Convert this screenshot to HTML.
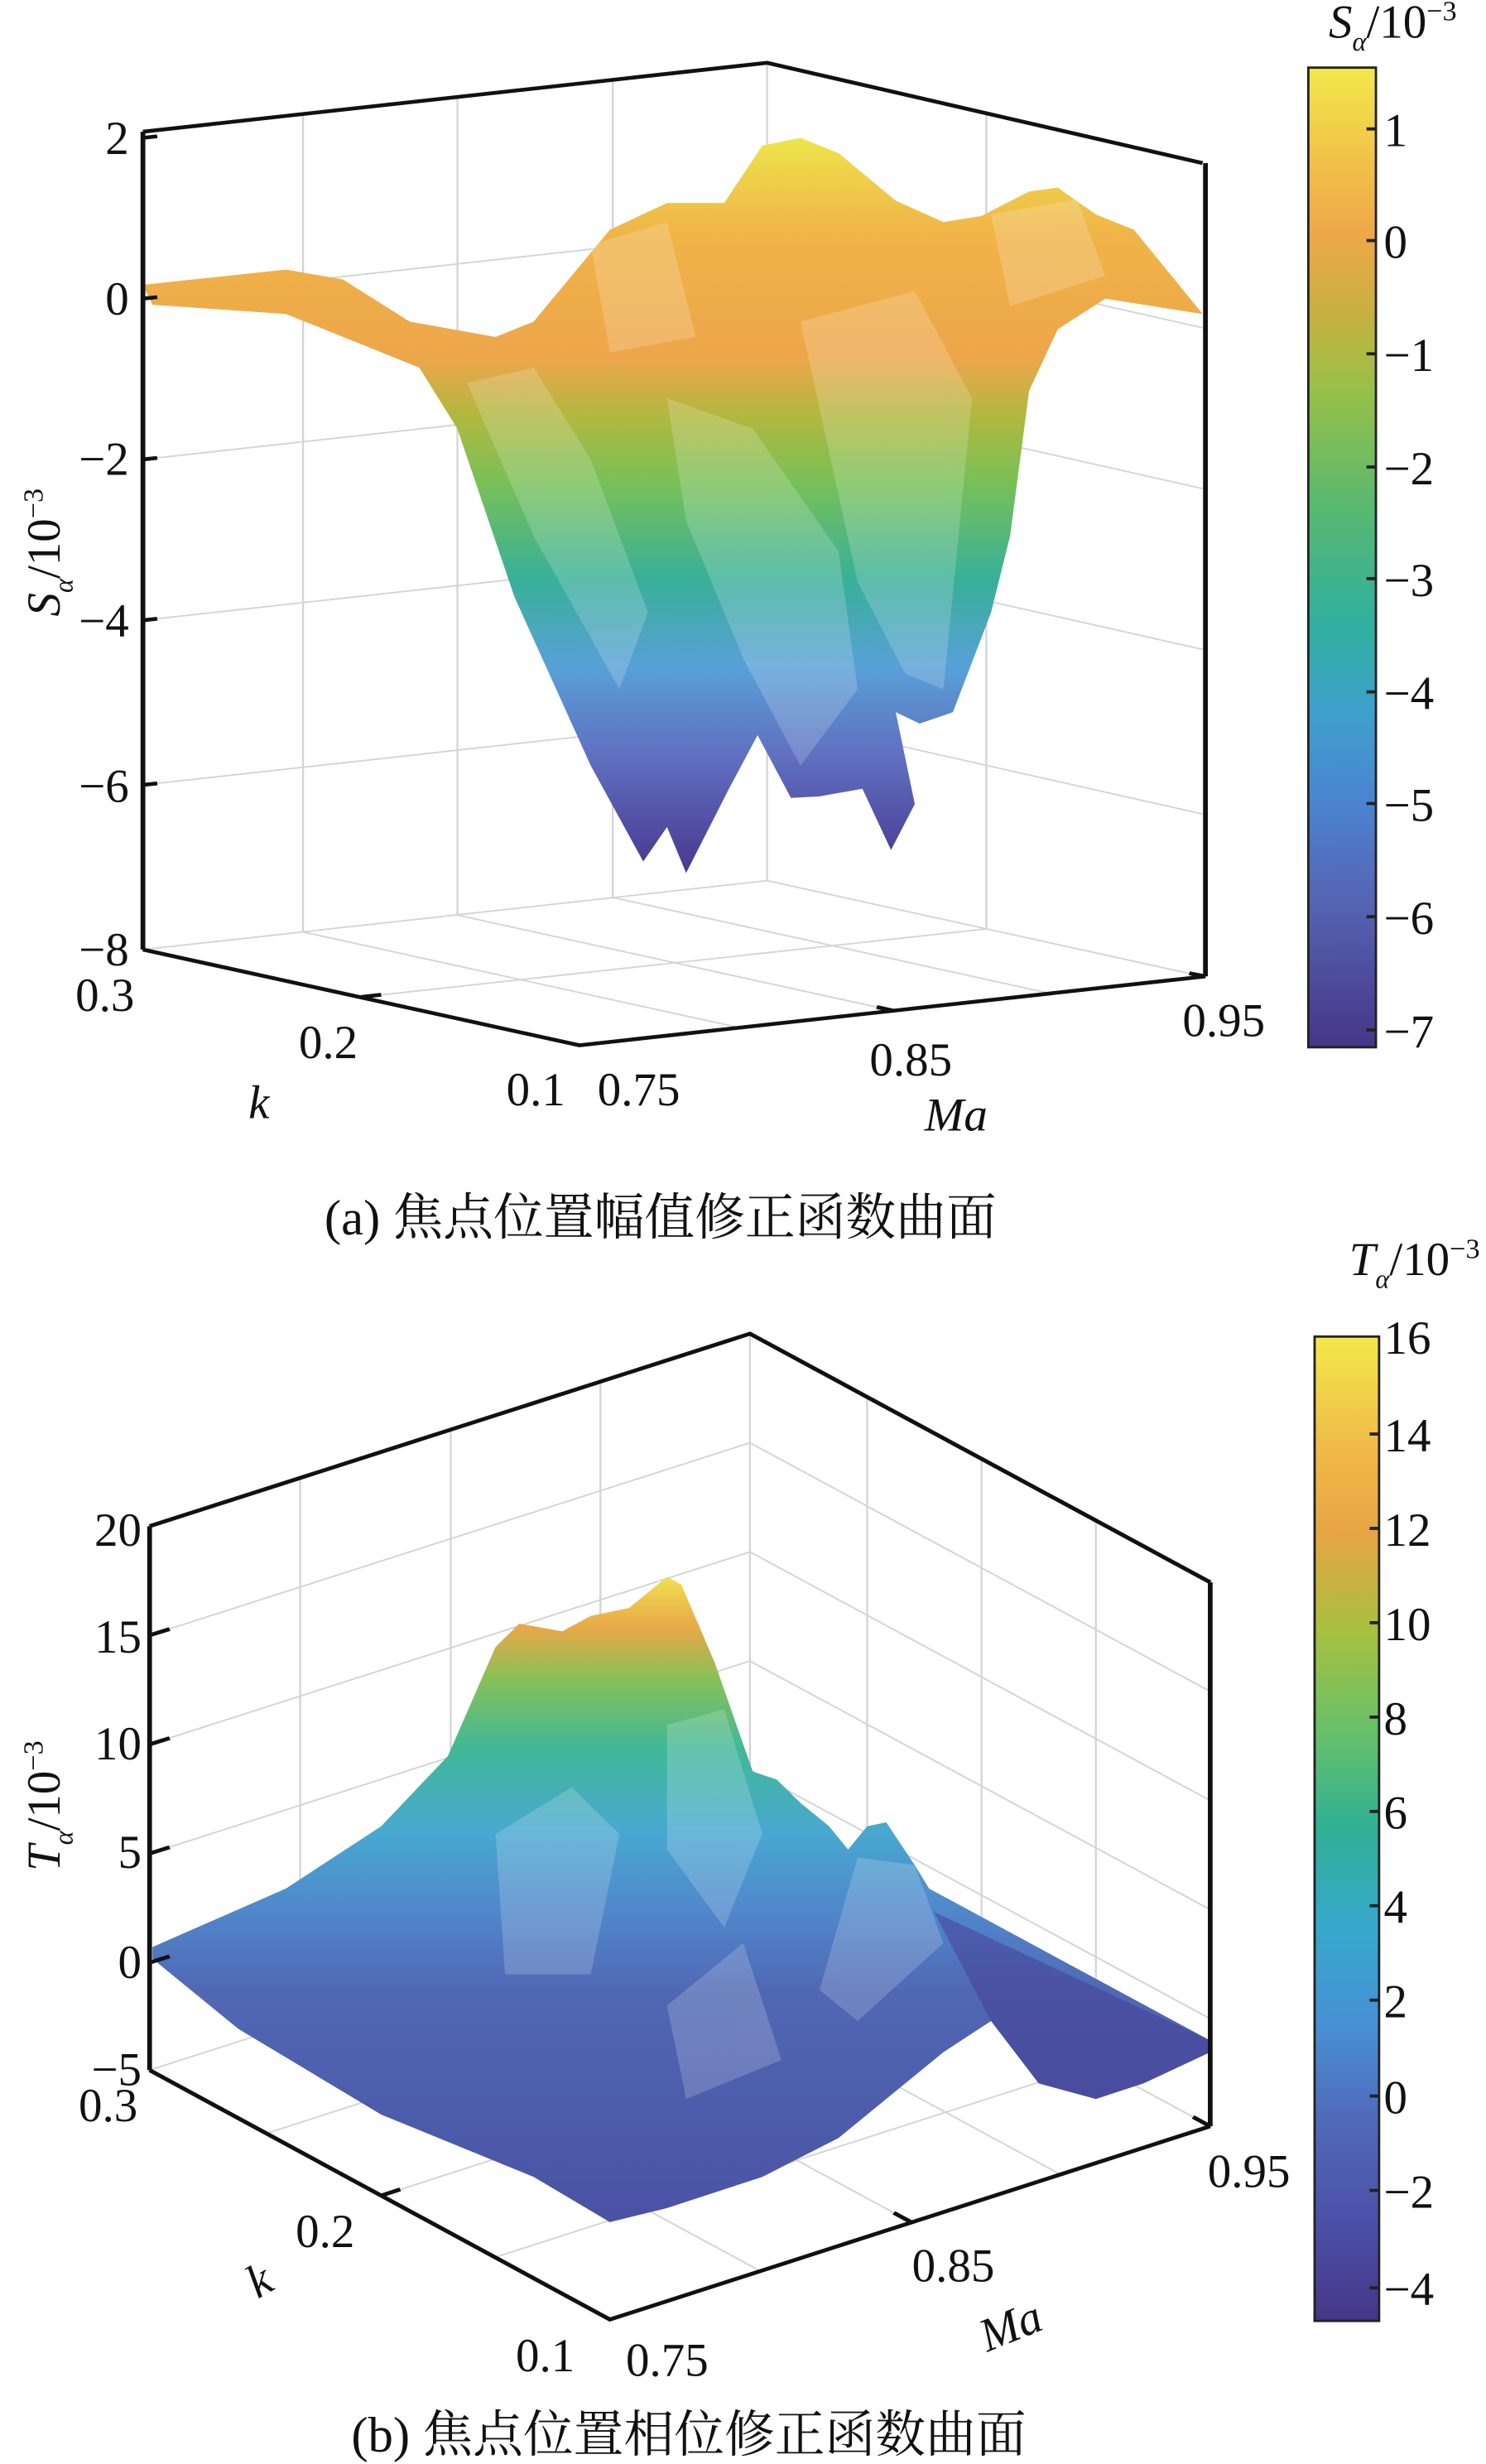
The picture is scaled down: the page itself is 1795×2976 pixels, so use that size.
<!DOCTYPE html>
<html><head><meta charset="utf-8"><style>
html,body{margin:0;padding:0;background:#fff}
svg{display:block}
text{font-family:"Liberation Serif","Noto Serif CJK SC",serif;fill:#111}
</style></head><body>
<svg width="1795" height="2976" viewBox="0 0 945 1567" preserveAspectRatio="none" xmlns="http://www.w3.org/2000/svg">
<defs>
<linearGradient id="cbA" x1="0" y1="0" x2="0" y2="1">
<stop offset="0" stop-color="#f2e84a"/><stop offset="0.1" stop-color="#f0c048"/><stop offset="0.17" stop-color="#eea848"/>
<stop offset="0.25" stop-color="#c8b040"/><stop offset="0.33" stop-color="#98c048"/><stop offset="0.45" stop-color="#58b870"/>
<stop offset="0.57" stop-color="#30b0a0"/><stop offset="0.66" stop-color="#3ea0cc"/><stop offset="0.75" stop-color="#4a84d0"/>
<stop offset="0.85" stop-color="#5664b4"/><stop offset="1" stop-color="#463688"/></linearGradient>
<linearGradient id="cbB" x1="0" y1="0" x2="0" y2="1">
<stop offset="0" stop-color="#f2e84a"/><stop offset="0.12" stop-color="#f0b848"/><stop offset="0.2" stop-color="#e8a444"/>
<stop offset="0.3" stop-color="#a8c040"/><stop offset="0.4" stop-color="#68c068"/><stop offset="0.5" stop-color="#30b095"/>
<stop offset="0.6" stop-color="#36a8cc"/><stop offset="0.7" stop-color="#4890d4"/><stop offset="0.8" stop-color="#5068b8"/>
<stop offset="0.9" stop-color="#4c50a8"/><stop offset="1" stop-color="#463688"/></linearGradient>
<linearGradient id="sA" gradientUnits="userSpaceOnUse" x1="0" y1="180" x2="0" y2="1140">
<stop offset="0" stop-color="#eee44a"/><stop offset="0.13" stop-color="#f0b448"/><stop offset="0.3" stop-color="#eda64a"/>
<stop offset="0.38" stop-color="#b0b840"/><stop offset="0.47" stop-color="#78c058"/><stop offset="0.6" stop-color="#38b098"/>
<stop offset="0.72" stop-color="#58a0d8"/><stop offset="0.84" stop-color="#6070c0"/><stop offset="1" stop-color="#483890"/></linearGradient>
<linearGradient id="sB" gradientUnits="userSpaceOnUse" x1="0" y1="430" x2="0" y2="1250">
<stop offset="0" stop-color="#f0e050"/><stop offset="0.08" stop-color="#e8a848"/><stop offset="0.16" stop-color="#88c058"/>
<stop offset="0.27" stop-color="#40b898"/><stop offset="0.4" stop-color="#48a8d0"/><stop offset="0.52" stop-color="#5088cc"/>
<stop offset="0.65" stop-color="#5068b4"/><stop offset="1" stop-color="#4a52a4"/></linearGradient>
</defs>

<!-- ===== Panel A ===== -->
<g transform="matrix(0.606 0 0 0.487 0 0)" fill="none">
<g stroke="#d4d4d4" stroke-width="2">
<line x1="805" y1="82" x2="805" y2="1150"/>
<line x1="150" y1="1240" x2="805" y2="1150"/>
<line x1="805" y1="1150" x2="1262" y2="1275"/>
<line x1="318" y1="149" x2="318" y2="1217"/><line x1="480" y1="127" x2="480" y2="1195"/><line x1="643" y1="104" x2="643" y2="1172"/>
<line x1="1035" y1="148" x2="1035" y2="1213"/>
<line x1="150" y1="390" x2="805" y2="300"/><line x1="150" y1="600" x2="805" y2="510"/><line x1="150" y1="810" x2="805" y2="720"/><line x1="150" y1="1025" x2="805" y2="935"/>
<line x1="805" y1="300" x2="1262" y2="428"/><line x1="805" y1="510" x2="1262" y2="638"/><line x1="805" y1="720" x2="1262" y2="848"/><line x1="805" y1="935" x2="1262" y2="1063"/>
<line x1="318" y1="1217" x2="776" y2="1342"/><line x1="480" y1="1195" x2="938" y2="1320"/><line x1="643" y1="1172" x2="1101" y2="1297"/>
<line x1="1035" y1="1213" x2="379" y2="1302"/>
</g>
<path fill="url(#sA)" d="M150,372 L300,352 L360,365 L430,420 L520,440 L560,420 L640,300 L700,265 L760,265 L800,190 L840,180 L880,200 L940,262 L990,290 L1030,282 L1080,250 L1110,245 L1150,280 L1190,300 L1262,410 L1160,390 L1110,430 L1080,510 L1060,700 L1040,800 L1000,930 L965,945 L940,930 L960,1050 L935,1110 L905,1030 L860,1040 L830,1042 L795,960 L765,1030 L720,1140 L700,1080 L675,1125 L620,1000 L540,780 L480,560 L440,480 L300,410 L160,398 Z"/>
<g fill="#ffffff" opacity="0.18">
<path d="M490,500 L560,480 L620,600 L680,800 L650,900 L560,700 Z"/>
<path d="M700,520 L790,560 L880,720 L900,900 L840,1000 L780,860 L720,680 Z"/>
<path d="M620,320 L700,290 L730,440 L640,460 Z"/>
<path d="M840,420 L960,380 L1020,520 L990,900 L950,880 L900,760 Z"/>
<path d="M1040,280 L1130,260 L1160,360 L1060,400 Z"/>
</g>
<g stroke="#111" stroke-width="5">
<polyline points="150,172 805,82 1262,213"/>
<line x1="150" y1="172" x2="150" y2="1240"/>
<line x1="1265" y1="213" x2="1265" y2="1275"/>
<polyline points="150,1240 608,1365 1265,1275"/>
</g>
<g stroke="#111" stroke-width="5">
<line x1="150" y1="180" x2="165" y2="178"/><line x1="150" y1="390" x2="165" y2="388"/><line x1="150" y1="600" x2="165" y2="598"/><line x1="150" y1="810" x2="165" y2="808"/><line x1="150" y1="1025" x2="165" y2="1023"/>
<line x1="379" y1="1302" x2="400" y2="1299"/><line x1="938" y1="1320" x2="920" y2="1315"/>
<line x1="1265" y1="1275" x2="1248" y2="1271"/>
</g>
</g>
<g font-size="30" text-anchor="end">
<text x="82" y="98">2</text><text x="82" y="200">0</text><text x="82" y="302">−2</text><text x="82" y="405">−4</text><text x="82" y="510">−6</text><text x="82" y="614">−8</text>
</g>
<g font-size="30">
<text x="48" y="643">0.3</text><text x="190" y="673">0.2</text><text x="322" y="703">0.1</text>
<text x="380" y="703">0.75</text><text x="553" y="684">0.85</text><text x="752" y="659">0.95</text>
<text x="158" y="711" font-style="italic">k</text><text x="588" y="719" font-style="italic">Ma</text>
</g>
<text transform="translate(38,392) rotate(-90)" font-size="30"><tspan font-style="italic">S</tspan><tspan font-size="17" font-style="italic" dy="8">α</tspan><tspan dy="-8">/10</tspan><tspan font-size="18" dy="-11">−3</tspan></text>
<rect x="832" y="43" width="43" height="623" fill="url(#cbA)" stroke="#222" stroke-width="1.5"/>
<g stroke="#222" stroke-width="2">
<line x1="869" y1="82" x2="875" y2="82"/><line x1="869" y1="153" x2="875" y2="153"/><line x1="869" y1="225" x2="875" y2="225"/><line x1="869" y1="297" x2="875" y2="297"/><line x1="869" y1="368" x2="875" y2="368"/><line x1="869" y1="440" x2="875" y2="440"/><line x1="869" y1="511" x2="875" y2="511"/><line x1="869" y1="583" x2="875" y2="583"/><line x1="869" y1="655" x2="875" y2="655"/>
</g>
<g font-size="30">
<text x="880" y="93">1</text><text x="880" y="164">0</text><text x="880" y="236">−1</text><text x="880" y="308">−2</text><text x="880" y="379">−3</text><text x="880" y="451">−4</text><text x="880" y="522">−5</text><text x="880" y="594">−6</text><text x="880" y="666">−7</text>
</g>
<text x="845" y="24" font-size="30"><tspan font-style="italic">S</tspan><tspan font-size="17" font-style="italic" dy="8">α</tspan><tspan dy="-8">/10</tspan><tspan font-size="18" dy="-11">−3</tspan></text>
<text x="420" y="785" font-size="32" text-anchor="middle">(a) 焦点位置幅值修正函数曲面</text>

<!-- ===== Panel B ===== -->
<g transform="matrix(0.606 0 0 0.4956 0 789.7)" fill="none">
<g stroke="#d4d4d4" stroke-width="2">
<line x1="787" y1="118" x2="787" y2="815"/>
<line x1="157" y1="1063" x2="787" y2="815"/><line x1="787" y1="815" x2="1270" y2="1135"/>
<line x1="315" y1="303" x2="315" y2="1001"/><line x1="473" y1="241" x2="473" y2="938"/><line x1="630" y1="179" x2="630" y2="877"/>
<line x1="910" y1="199" x2="910" y2="896"/><line x1="1030" y1="279" x2="1030" y2="976"/><line x1="1150" y1="358" x2="1150" y2="1055"/>
<line x1="157" y1="505" x2="787" y2="258"/><line x1="157" y1="645" x2="787" y2="398"/><line x1="157" y1="785" x2="787" y2="538"/><line x1="157" y1="925" x2="787" y2="678"/>
<line x1="787" y1="258" x2="1270" y2="577"/><line x1="787" y1="398" x2="1270" y2="717"/><line x1="787" y1="538" x2="1270" y2="857"/><line x1="787" y1="678" x2="1270" y2="997"/>
<line x1="315" y1="1001" x2="798" y2="1321"/><line x1="473" y1="938" x2="956" y2="1258"/><line x1="630" y1="877" x2="1113" y2="1197"/>
<line x1="910" y1="896" x2="280" y2="1144"/><line x1="1030" y1="976" x2="400" y2="1224"/><line x1="1150" y1="1055" x2="520" y2="1303"/>
</g>
<path fill="url(#sB)" d="M160,905 L300,830 L400,750 L470,660 L520,520 L545,490 L590,500 L620,480 L660,470 L700,430 L715,440 L750,540 L790,680 L815,690 L840,720 L870,750 L890,780 L910,750 L930,745 L960,800 L975,830 L1270,1025 L1270,1040 L1200,1080 L1150,1100 L1090,1080 L1040,1000 L990,1040 L950,1080 L880,1150 L800,1200 L700,1240 L640,1258 L560,1200 L400,1120 L250,1010 L160,920 Z"/>
<path fill="#463a92" opacity="0.5" d="M980,860 L1270,1025 L1270,1040 L1200,1080 L1150,1100 L1090,1080 L1040,1000 Z"/>
<g fill="#ffffff" opacity="0.18">
<path d="M520,760 L600,700 L650,760 L620,940 L530,940 Z"/>
<path d="M700,620 L760,600 L800,760 L760,880 L700,780 Z"/>
<path d="M900,790 L960,800 L990,900 L900,1000 L860,960 Z"/>
<path d="M700,980 L780,900 L820,1050 L720,1100 Z"/>
</g>
<g stroke="#111" stroke-width="5">
<polyline points="157,365 787,118 1270,437"/>
<line x1="157" y1="365" x2="157" y2="1063"/>
<line x1="1270" y1="437" x2="1270" y2="1135"/>
<polyline points="157,1063 640,1383 1270,1135"/>
</g>
<g stroke="#111" stroke-width="5">
<line x1="157" y1="505" x2="178" y2="497"/><line x1="157" y1="645" x2="178" y2="637"/><line x1="157" y1="785" x2="178" y2="777"/><line x1="157" y1="925" x2="178" y2="917"/>
<line x1="400" y1="1224" x2="420" y2="1216"/><line x1="956" y1="1258" x2="938" y2="1246"/><line x1="1270" y1="1135" x2="1252" y2="1123"/>
</g>
</g>
<g font-size="30" text-anchor="end">
<text x="90" y="983">20</text><text x="90" y="1051">15</text><text x="90" y="1119">10</text><text x="90" y="1188">5</text><text x="90" y="1258">0</text><text x="90" y="1326">−5</text>
</g>
<g font-size="30">
<text x="50" y="1349">0.3</text><text x="188" y="1429">0.2</text><text x="328" y="1508">0.1</text>
<text x="398" y="1511">0.75</text><text x="580" y="1451">0.85</text><text x="768" y="1391">0.95</text>
<text x="158" y="1460" font-style="italic" transform="rotate(-30 165 1450)">k</text>
<text x="622" y="1490" font-style="italic" transform="rotate(-22 640 1478)">Ma</text>
</g>
<text transform="translate(38,1190) rotate(-90)" font-size="30"><tspan font-style="italic">T</tspan><tspan font-size="17" font-style="italic" dy="8">α</tspan><tspan dy="-8">/10</tspan><tspan font-size="18" dy="-11">−3</tspan></text>
<rect x="836" y="850" width="41" height="626" fill="url(#cbB)" stroke="#222" stroke-width="1.5"/>
<g stroke="#222" stroke-width="2">
<line x1="871" y1="912" x2="877" y2="912"/><line x1="871" y1="972" x2="877" y2="972"/><line x1="871" y1="1032" x2="877" y2="1032"/><line x1="871" y1="1092" x2="877" y2="1092"/><line x1="871" y1="1152" x2="877" y2="1152"/><line x1="871" y1="1212" x2="877" y2="1212"/><line x1="871" y1="1272" x2="877" y2="1272"/><line x1="871" y1="1333" x2="877" y2="1333"/><line x1="871" y1="1393" x2="877" y2="1393"/><line x1="871" y1="1455" x2="877" y2="1455"/>
</g>
<g font-size="30">
<text x="880" y="861">16</text><text x="880" y="923">14</text><text x="880" y="983">12</text><text x="880" y="1043">10</text><text x="880" y="1103">8</text><text x="880" y="1163">6</text><text x="880" y="1223">4</text><text x="880" y="1283">2</text><text x="880" y="1344">0</text><text x="880" y="1404">−2</text><text x="880" y="1466">−4</text>
</g>
<text x="858" y="811" font-size="30"><tspan font-style="italic">T</tspan><tspan font-size="17" font-style="italic" dy="8">α</tspan><tspan dy="-8">/10</tspan><tspan font-size="18" dy="-11">−3</tspan></text>
<text x="438" y="1559" font-size="32" text-anchor="middle">(b) 焦点位置相位修正函数曲面</text>
</svg>
</body></html>
